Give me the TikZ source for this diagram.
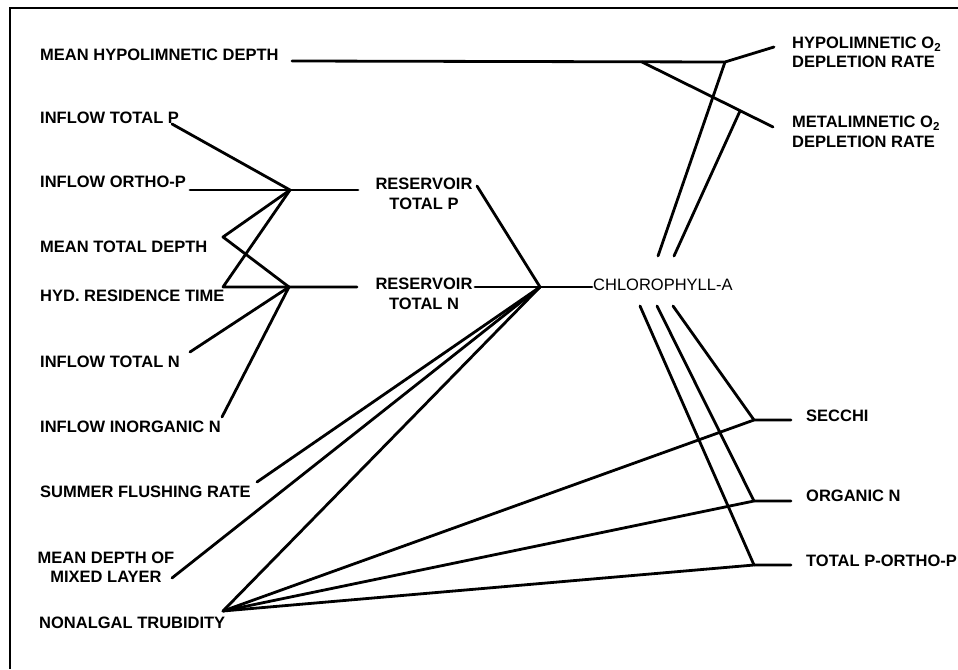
\documentclass[tikz,border=0pt]{standalone}
\usepackage{fontspec}
\setmainfont{Liberation Sans}
\begin{document}
\begin{tikzpicture}[x=1pt,y=-1pt,
  lbl/.style={font=\fontsize{16.5}{19.5}\selectfont\bfseries, inner sep=0pt, anchor=west, align=left},
  clbl/.style={font=\fontsize{16.5}{19.5}\selectfont\bfseries, inner sep=0pt, anchor=center, align=center},
  conn/.style={line width=2.8pt, line cap=round, line join=round}]
\useasboundingbox (0,0) rectangle (958,669);
\draw[line width=2.8pt] (958,8) -- (10,8) -- (10,669);

% left labels
\node[lbl] (mhd) at (40,55) {MEAN HYPOLIMNETIC DEPTH};
\node[lbl] (itp) at (40,118) {INFLOW TOTAL P};
\node[lbl] (iop) at (40,182) {INFLOW ORTHO-P};
\node[lbl] (mtd) at (40,247) {MEAN TOTAL DEPTH};
\node[lbl] (hrt) at (40,296) {HYD. RESIDENCE TIME};
\node[lbl] (itn) at (40,362) {INFLOW TOTAL N};
\node[lbl] (iin) at (40,427) {INFLOW INORGANIC N};
\node[lbl] (sfr) at (40,492) {SUMMER FLUSHING RATE};
\node[clbl] (mdm) at (106,567) {MEAN DEPTH OF\\MIXED LAYER};
\node[lbl] (nat) at (39,623) {NONALGAL TRUBIDITY};

% middle labels
\node[clbl] (rtp) at (424,194) {RESERVOIR\\TOTAL P};
\node[clbl] (rtn) at (424,294) {RESERVOIR\\TOTAL N};
\node[lbl, font=\fontsize{16.5}{19.5}\selectfont] (chl) at (593,285) {CHLOROPHYLL-A};

% right labels
\node[lbl] (hyp) at (792,52.5) {HYPOLIMNETIC O\textsubscript{2}\\DEPLETION RATE};
\node[lbl] (met) at (792,132) {METALIMNETIC O\textsubscript{2}\\DEPLETION RATE};
\node[lbl] (sec) at (806,416) {SECCHI};
\node[lbl] (orn) at (806,496) {ORGANIC N};
\node[lbl] (tpo) at (806,561) {TOTAL P-ORTHO-P};

% junctions and end points
\coordinate (J1) at (290,190);
\coordinate (J2) at (289,287);
\coordinate (J3) at (540,287);
\coordinate (itpE) at (172,124);
\coordinate (iopE) at (190,190);
\coordinate (mtdV) at (223,237);
\coordinate (hrtV) at (223,287);
\coordinate (itnE) at (190,352);
\coordinate (iinE) at (222,417);
\coordinate (rtpW) at (358,190);
\coordinate (rtnW) at (357,287);
\coordinate (rtpE) at (477,186);
\coordinate (rtnE) at (475,287);
\coordinate (chlW) at (592,287);
\coordinate (sfrE) at (257,482);
\coordinate (mdmE) at (172,578);
\coordinate (natV) at (223,611);
\coordinate (S) at (754,420);
\coordinate (O) at (754,501);
\coordinate (T) at (754,565);
\coordinate (secW) at (791,420);
\coordinate (ornW) at (791,501);
\coordinate (tpoW) at (791,565);
\coordinate (chlT1) at (658,256);
\coordinate (chlT2) at (674,256);
\coordinate (chlB1) at (640,306);
\coordinate (chlB2) at (657,306);
\coordinate (chlB3) at (673,306);
\coordinate (mhdE) at (292,61);
\coordinate (H) at (725,62);
\coordinate (M) at (642,62);
\coordinate (hypW) at (774,47);
\coordinate (metW) at (773,127);
\coordinate (Mx) at (740,111);

% connectors left
\draw[conn] (itpE) -- (J1);
\draw[conn] (iopE) -- (J1) -- (rtpW);
\draw[conn] (J1) -- (mtdV) -- (J2);
\draw[conn] (J1) -- (hrtV) -- (J2) -- (rtnW);
\draw[conn] (itnE) -- (J2);
\draw[conn] (iinE) -- (J2);

% middle
\draw[conn] (rtpE) -- (J3);
\draw[conn] (rtnE) -- (J3) -- (chlW);
\draw[conn] (sfrE) -- (J3);
\draw[conn] (mdmE) -- (J3);
\draw[conn] (natV) -- (J3);

% nonalgal to right
\draw[conn] (natV) -- (S) -- (secW);
\draw[conn] (natV) -- (O) -- (ornW);
\draw[conn] (natV) -- (T) -- (tpoW);

% chlorophyll down
\draw[conn] (chlB1) -- (T);
\draw[conn] (chlB2) -- (O);
\draw[conn] (chlB3) -- (S);

% top
\draw[conn] (mhdE) -- (H) -- (hypW);
\draw[conn] (M) -- (metW);
\draw[conn] (chlT1) -- (H);
\draw[conn] (chlT2) -- (Mx);
\end{tikzpicture}
\end{document}
